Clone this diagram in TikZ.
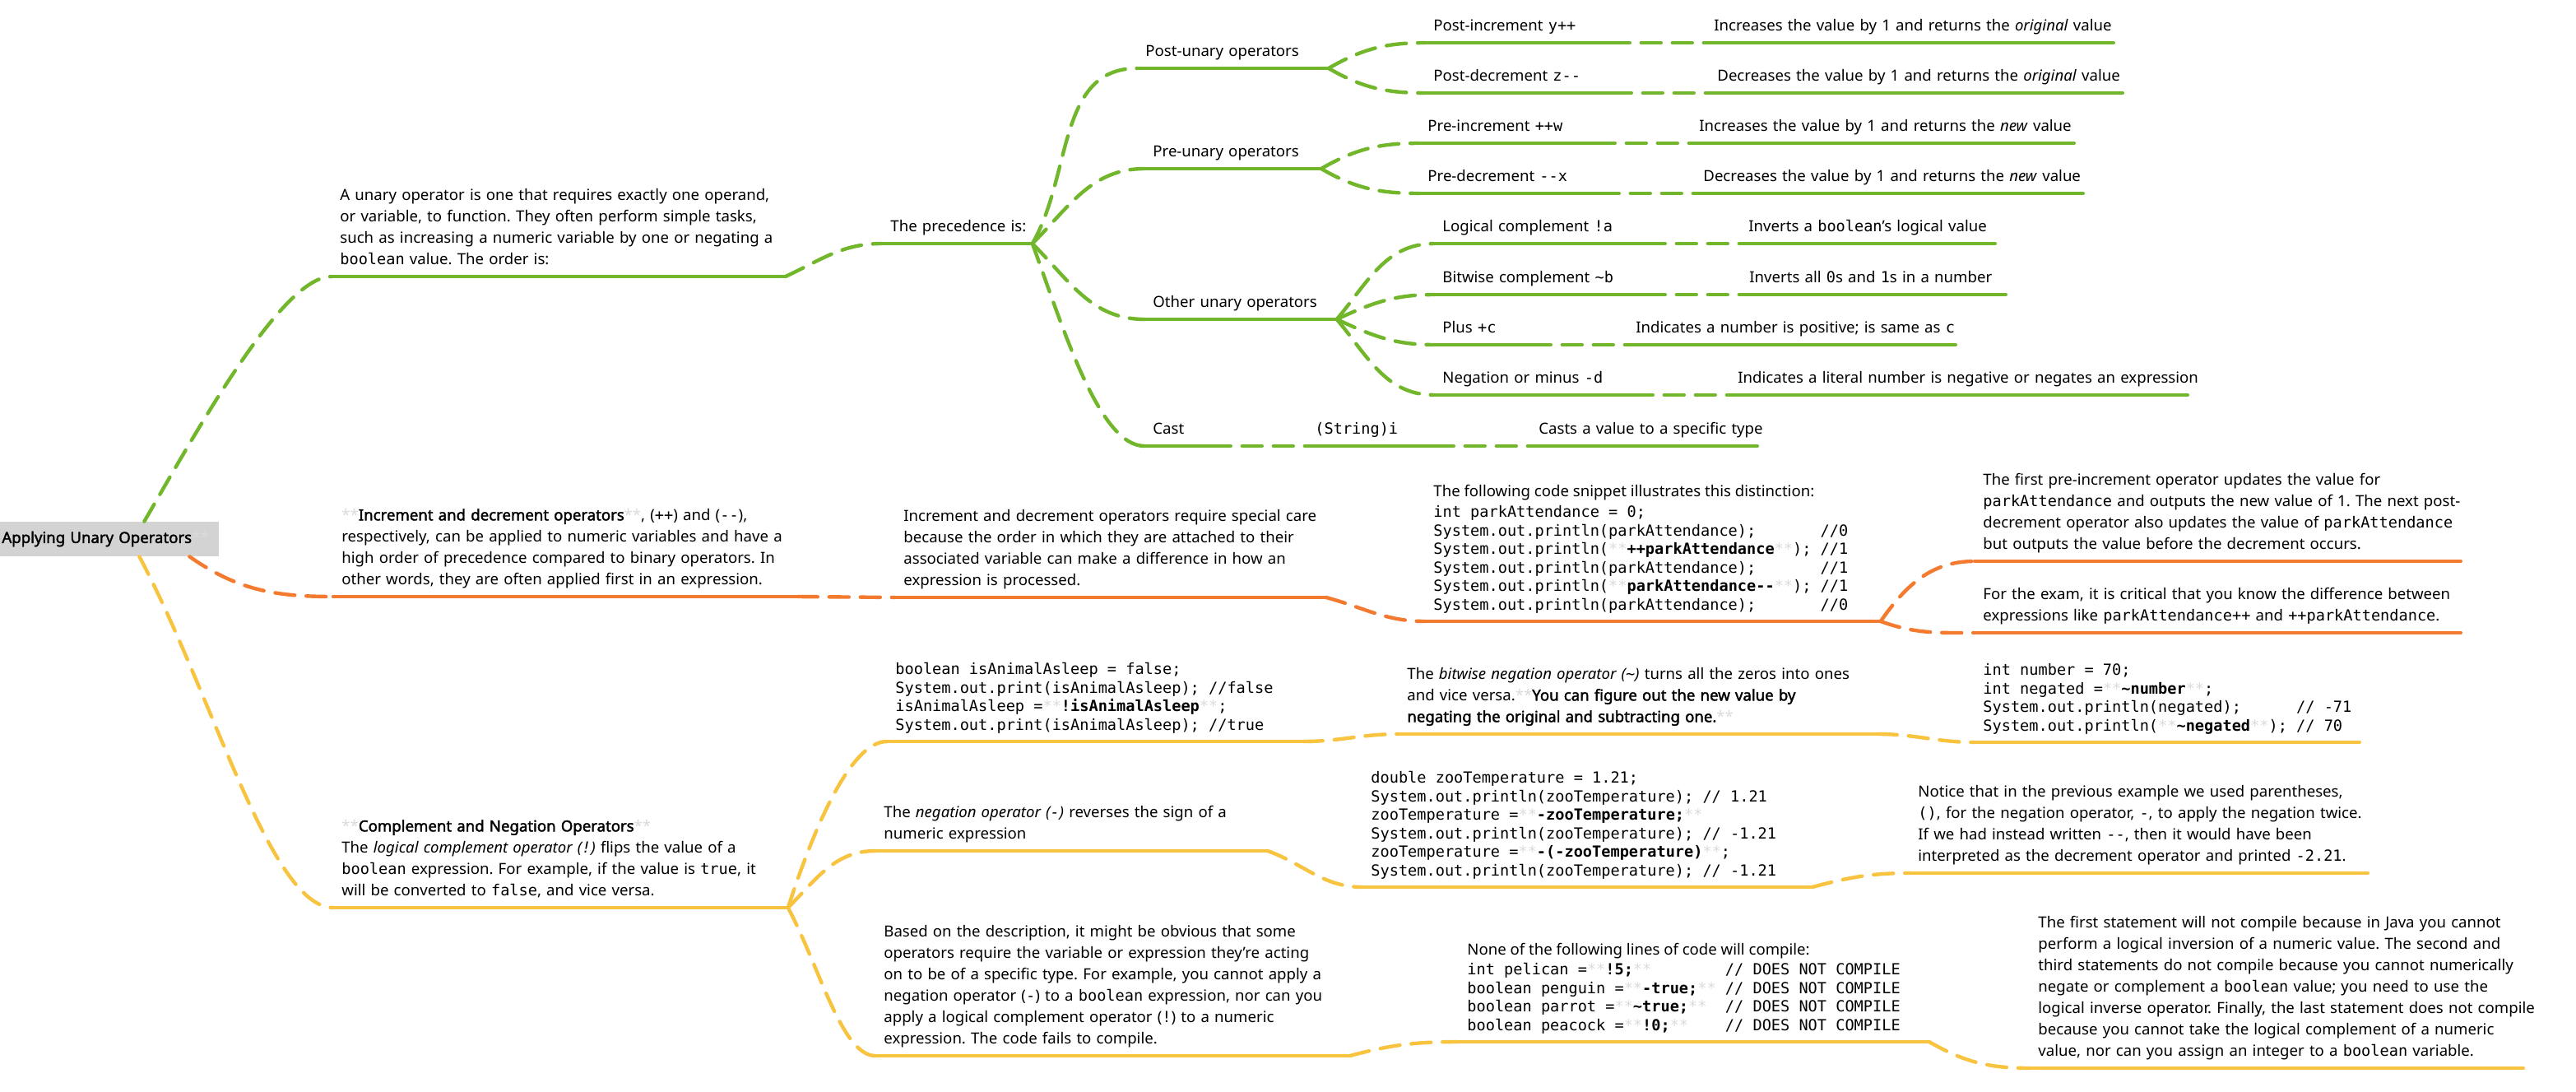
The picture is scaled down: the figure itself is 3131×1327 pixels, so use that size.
\documentclass[tikz,border=0pt]{standalone}
\usepackage{tikz}
\usepackage{fontspec}
\setmainfont{Noto Sans}[BoldFont={Noto Sans}, BoldFeatures={FakeBold=2}]
\setmonofont{DejaVu Sans Mono}
\frenchspacing
\definecolor{mapgreen}{HTML}{72B62B}
\definecolor{maporange}{HTML}{F37A2E}
\definecolor{mapyellow}{HTML}{F8C440}
\definecolor{rootgray}{HTML}{D3D3D3}
\newcommand\mk{\textcolor{black!14}{**}}
\newcommand\cd[1]{{\ttfamily #1}}
\newcommand\tld{\textasciitilde}
\newcommand\gap[1]{\hspace*{#1\fontcharwd\font`\0}}
\newcommand\plain{\rmfamily\spaceskip=0pt\relax}
\newcommand\lns[1]{\begin{tabular}{@{}l@{}}#1\end{tabular}}
\tikzset{
  topic/.style={anchor=south west, inner xsep=5pt, inner ysep=3.2pt,
    font=\fontsize{9.3}{13}\selectfont},
  codebox/.style={topic, font=\fontsize{9.3}{11.3}\selectfont\ttfamily,
    execute at begin node={\ttfamily\spaceskip=\fontcharwd\font`\0\relax}},
  rootbox/.style={anchor=west, fill=rootgray, minimum width=133pt, minimum height=21pt,
    inner xsep=1pt, text width=131pt, font=\fontsize{9.3}{13}\selectfont},
  uline/.style={line width=2.2pt, line cap=round},
  link/.style={uline, dash pattern=on 12pt off 7pt},
}
\begin{document}
\begin{tikzpicture}[x=0.5pt,y=-0.5pt]
\path[use as bounding box, fill=white] (0,0) rectangle (3131,1327);
%% root
\node[rootbox] (root) at (0,655) {\textbf{Applying Unary Operators}\mk};
%% green branch
\node[topic,text width=265.5pt] (desc) at (403,336) {\lns{A unary operator is one that requires exactly one operand,\\ or variable, to function. They often perform simple tasks,\\ such as increasing a numeric variable by one or negating a\\ \cd{boolean} value. The order is:}};
\node[topic,text width=81pt] (prec) at (1072,296) {\lns{The precedence is:}};
\node[topic,text width=106pt] (post) at (1382,83) {\lns{Post-unary operators}};
\node[topic,text width=97pt] (pre) at (1391,205) {\lns{Pre-unary operators}};
\node[topic,text width=106.5pt] (other) at (1391,388) {\lns{Other unary operators}};
\node[topic,text width=30pt] (cast) at (1391,542) {\lns{Cast}};
\node[topic,text width=67pt] (castex) at (1588,542) {\lns{\cd{(String)i}}};
\node[topic,text width=127.5pt] (castdesc) at (1860,542) {\lns{Casts a value to a specific type}};
\node[topic,text width=102pt] (postinc) at (1732,52) {\lns{Post-increment \cd{y++}}};
\node[topic,text width=237.5pt] (postincd) at (2073,52) {\lns{Increases the value by 1 and returns the \textit{original} value}};
\node[topic,text width=103pt] (postdec) at (1732,113) {\lns{Post-decrement \cd{z--}}};
\node[topic,text width=241pt] (postdecd) at (2077,113) {\lns{Decreases the value by 1 and returns the \textit{original} value}};
\node[topic,text width=96.5pt] (preinc) at (1725,174) {\lns{Pre-increment \cd{++w}}};
\node[topic,text width=222.5pt] (preincd) at (2055,174) {\lns{Increases the value by 1 and returns the \textit{new} value}};
\node[topic,text width=99pt] (predec) at (1725,235) {\lns{Pre-decrement \cd{--x}}};
\node[topic,text width=225.5pt] (predecd) at (2060,235) {\lns{Decreases the value by 1 and returns the \textit{new} value}};
\node[topic,text width=118pt] (lcomp) at (1743,296) {\lns{Logical complement \cd{!a}}};
\node[topic,text width=144.5pt] (lcompd) at (2115,296) {\lns{Inverts a \cd{boolean}'s logical value}};
\node[topic,text width=118pt] (bcomp) at (1743,358) {\lns{Bitwise complement \cd{\tld b}}};
\node[topic,text width=150.5pt] (bcompd) at (2116,358) {\lns{Inverts all \cd{0}s and \cd{1}s in a number}};
\node[topic,text width=48.5pt] (plus) at (1743,419) {\lns{Plus \cd{+c}}};
\node[topic,text width=189pt] (plusd) at (1978,419) {\lns{Indicates a number is positive; is same as \cd{c}}};
\node[topic,text width=110.5pt] (neg) at (1743,480) {\lns{Negation or minus \cd{-d}}};
\node[topic,text width=268pt] (negd) at (2102,480) {\lns{Indicates a literal number is negative or negates an expression}};
\foreach \n in {desc,prec,post,pre,other,cast,castex,castdesc,postinc,postincd,postdec,postdecd,preinc,preincd,predec,predecd,lcomp,lcompd,bcomp,bcompd,plus,plusd,neg,negd}
  \draw[uline,mapgreen] (\n.south west) -- (\n.south east);
\draw[link,mapgreen] ([xshift=21pt]root.north) to[out=60,in=180,in looseness=0.4] (desc.south west);
\draw[link,mapgreen] (desc.south east) to[out=25,in=180] (prec.south west);
\draw[link,mapgreen] (prec.south east) to[out=60,in=180] (post.south west);
\draw[link,mapgreen] (prec.south east) to[out=45,in=180] (pre.south west);
\draw[link,mapgreen] (prec.south east) to[out=-45,in=180] (other.south west);
\draw[link,mapgreen] (prec.south east) to[out=-70,in=180,in looseness=0.5] (cast.south west);
\draw[link,mapgreen] (post.south east) to[out=30,in=180] (postinc.south west);
\draw[link,mapgreen] (post.south east) to[out=-30,in=180] (postdec.south west);
\draw[link,mapgreen] (pre.south east) to[out=30,in=180] (preinc.south west);
\draw[link,mapgreen] (pre.south east) to[out=-30,in=180] (predec.south west);
\draw[link,mapgreen] (other.south east) to[out=50,in=180] (lcomp.south west);
\draw[link,mapgreen] (other.south east) to[out=25,in=180] (bcomp.south west);
\draw[link,mapgreen] (other.south east) to[out=-25,in=180] (plus.south west);
\draw[link,mapgreen] (other.south east) to[out=-50,in=180] (neg.south west);
\draw[link,mapgreen] (postinc.south east) -- (postincd.south west);
\draw[link,mapgreen] (postdec.south east) -- (postdecd.south west);
\draw[link,mapgreen] (preinc.south east) -- (preincd.south west);
\draw[link,mapgreen] (predec.south east) -- (predecd.south west);
\draw[link,mapgreen] (lcomp.south east) -- (lcompd.south west);
\draw[link,mapgreen] (bcomp.south east) -- (bcompd.south west);
\draw[link,mapgreen] (plus.south east) -- (plusd.south west);
\draw[link,mapgreen] (neg.south east) -- (negd.south west);
\draw[link,mapgreen] (cast.south east) -- (castex.south west);
\draw[link,mapgreen] (castex.south east) -- (castdesc.south west);
%% orange branch
\node[topic,text width=272pt] (incr) at (405,725) {\lns{\mk\textbf{Increment and decrement operators}\mk, (\cd{++}) and (\cd{--}),\\ respectively, can be applied to numeric variables and have a\\ high order of precedence compared to binary operators. In\\ other words, they are often applied first in an expression.}};
\node[topic,text width=251.5pt] (care) at (1088,726) {\lns{Increment and decrement operators require special care\\ because the order in which they are attached to their\\ associated variable can make a difference in how an\\ expression is processed.}};
\node[codebox,text width=266.5pt] (snippet) at (1732,755) {\lns{\plain The following code snippet illustrates this distinction:\\[1pt]
  int parkAttendance = 0;\\
  System.out.println(parkAttendance);\gap{7}//0\\
  System.out.println(\mk\textbf{++parkAttendance}\mk);\gap{1}//1\\
  System.out.println(parkAttendance);\gap{7}//1\\
  System.out.println(\mk\textbf{parkAttendance--}\mk);\gap{1}//1\\
  System.out.println(parkAttendance);\gap{7}//0}};
\node[topic,text width=285pt] (first) at (2400,682) {\lns{The first pre-increment operator updates the value for\\ \cd{parkAttendance} and outputs the new value of 1. The next post-\\ decrement operator also updates the value of \cd{parkAttendance}\\ but outputs the value before the decrement occurs.}};
\node[topic,text width=285pt] (exam) at (2400,769) {\lns{For the exam, it is critical that you know the difference between\\ expressions like \cd{parkAttendance++} and \cd{++parkAttendance}.}};
\foreach \n in {incr,care,snippet,first,exam}
  \draw[uline,maporange] (\n.south west) -- (\n.south east);
\draw[link,maporange] ([xshift=48.5pt]root.south) to[out=-35,in=180] (incr.south west);
\draw[link,maporange] (incr.south east) -- (care.south west);
\draw[link,maporange] (care.south east) to[out=-15,in=180] (snippet.south west);
\draw[link,maporange] (snippet.south east) to[out=55,in=180] (first.south west);
\draw[link,maporange] (snippet.south east) to[out=-20,in=180] (exam.south west);
%% yellow branch
\node[topic,text width=266pt] (compl) at (405,1103) {\lns{\mk\textbf{Complement and Negation Operators}\mk\\ The \textit{logical complement operator (\cd{!})} flips the value of a\\ \cd{boolean} expression. For example, if the value is \cd{true}, it\\ will be converted to \cd{false}, and vice versa.}};
\node[codebox,text width=242.5pt] (asleep) at (1078,901) {\lns{boolean isAnimalAsleep = false;\\
  System.out.print(isAnimalAsleep); //false\\
  isAnimalAsleep =\mk\textbf{!isAnimalAsleep}\mk;\\
  System.out.print(isAnimalAsleep); //true}};
\node[topic,text width=228pt] (negop) at (1064,1034) {\lns{The \textit{negation operator (\cd{-})} reverses the sign of a\\ numeric expression}};
\node[topic,text width=278pt] (based) at (1064,1283) {\lns{Based on the description, it might be obvious that some\\ operators require the variable or expression they're acting\\ on to be of a specific type. For example, you cannot apply a\\ negation operator (\cd{-}) to a \cd{boolean} expression, nor can you\\ apply a logical complement operator (\cd{!}) to a numeric\\ expression. The code fails to compile.}};
\node[topic,text width=280.5pt] (bitwise) at (1700,892) {\lns{The \textit{bitwise negation operator (\cd{\tld})} turns all the zeros into ones\\ and vice versa.\mk\textbf{You can figure out the new value by}\\ \textbf{negating the original and subtracting one.}\mk}};
\node[codebox,text width=223.5pt] (number) at (2400,902) {\lns{int number = 70;\\
  int negated =\mk\textbf{\tld number}\mk;\\
  System.out.println(negated);\gap{6}// -71\\
  System.out.println(\mk\textbf{\tld negated}\mk);\gap{1}// 70}};
\node[codebox,text width=263pt] (zoo) at (1656,1078) {\lns{double zooTemperature = 1.21;\\
  System.out.println(zooTemperature); // 1.21\\
  zooTemperature =\mk\textbf{-zooTemperature;}\mk\\
  System.out.println(zooTemperature); // -1.21\\
  zooTemperature =\mk\textbf{-(-zooTemperature)}\mk;\\
  System.out.println(zooTemperature); // -1.21}};
\node[topic,text width=268pt] (notice) at (2321,1061) {\lns{Notice that in the previous example we used parentheses,\\ \cd{()}, for the negation operator, \cd{-}, to apply the negation twice.\\ If we had instead written \cd{--}, then it would have been\\ interpreted as the decrement operator and printed \cd{-2.21}.}};
\node[codebox,text width=275.5pt] (none) at (1773,1266) {\lns{\plain None of the following lines of code will compile:\\[1pt]
  int pelican =\mk\textbf{!5;}\mk\gap{8}// DOES NOT COMPILE\\
  boolean penguin =\mk\textbf{-true;}\mk\gap{1}// DOES NOT COMPILE\\
  boolean parrot =\mk\textbf{\tld true;}\mk\gap{2}// DOES NOT COMPILE\\
  boolean peacock =\mk\textbf{!0;}\mk\gap{4}// DOES NOT COMPILE}};
\node[topic,text width=289.5pt] (final) at (2467,1298) {\lns{The first statement will not compile because in Java you cannot\\ perform a logical inversion of a numeric value. The second and\\ third statements do not compile because you cannot numerically\\ negate or complement a \cd{boolean} value; you need to use the\\ logical inverse operator. Finally, the last statement does not compile\\ because you cannot take the logical complement of a numeric\\ value, nor can you assign an integer to a \cd{boolean} variable.}};
\foreach \n in {compl,asleep,negop,based,bitwise,number,zoo,notice,none,final}
  \draw[uline,mapyellow] (\n.south west) -- (\n.south east);
\draw[link,mapyellow] ([xshift=18pt]root.south) to[out=-62,in=180,in looseness=0.4] (compl.south west);
\draw[link,mapyellow] (compl.south east) to[out=72,in=180,in looseness=0.5] (asleep.south west);
\draw[link,mapyellow] (compl.south east) to[out=45,in=180] (negop.south west);
\draw[link,mapyellow] (compl.south east) to[out=-62,in=180,in looseness=0.5] (based.south west);
\draw[link,mapyellow] (asleep.south east) to[out=0,in=180] (bitwise.south west);
\draw[link,mapyellow] (bitwise.south east) to[out=0,in=180] (number.south west);
\draw[link,mapyellow] (negop.south east) to[out=-20,in=180] (zoo.south west);
\draw[link,mapyellow] (zoo.south east) to[out=15,in=180] (notice.south west);
\draw[link,mapyellow] (based.south east) to[out=15,in=180] (none.south west);
\draw[link,mapyellow] (none.south east) to[out=-30,in=180] (final.south west);
%
\end{tikzpicture}
\end{document}
